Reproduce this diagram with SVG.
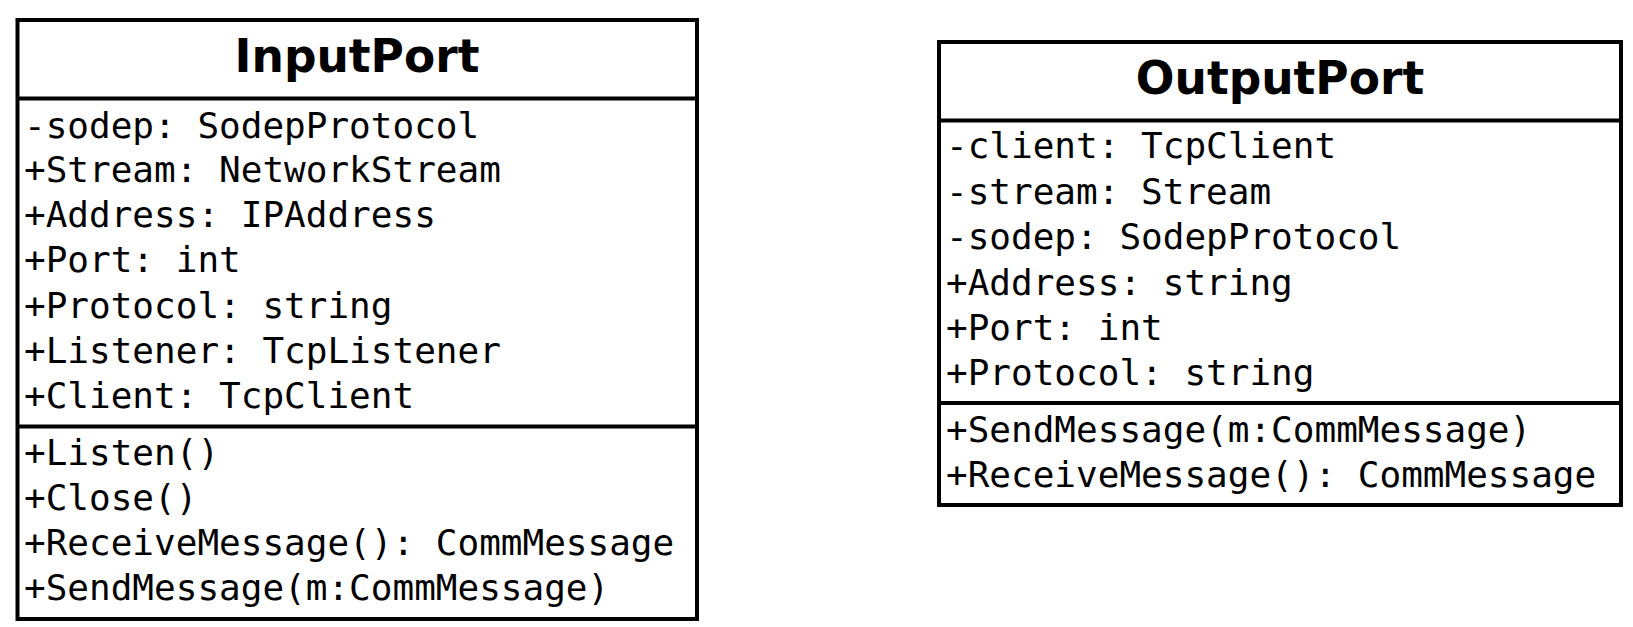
<svg xmlns="http://www.w3.org/2000/svg" width="1633" height="627" viewBox="0 0 1633 627">
<style>
.box{fill:#fff;stroke:#000;stroke-width:4}
.sep{stroke:#000;stroke-width:4}
.title{font-family:"DejaVu Sans",sans-serif;font-weight:bold;font-size:45.5px;text-anchor:middle;fill:#000}
.mem{font-family:"DejaVu Sans Mono",monospace;font-size:36px;fill:#000}
</style>
<rect width="1633" height="627" fill="#fff"/>
<g id="InputPort">
<rect class="box" x="17.5" y="20" width="679.5" height="599"/>
<line class="sep" x1="17.5" y1="98.5" x2="697" y2="98.5"/>
<line class="sep" x1="17.5" y1="426.5" x2="697" y2="426.5"/>
<text class="title" x="357" y="72">InputPort</text>
<text class="mem" x="24" y="137.5">-sodep: SodepProtocol</text>
<text class="mem" x="24" y="182">+Stream: NetworkStream</text>
<text class="mem" x="24" y="227">+Address: IPAddress</text>
<text class="mem" x="24" y="272">+Port: int</text>
<text class="mem" x="24" y="318">+Protocol: string</text>
<text class="mem" x="24" y="363">+Listener: TcpListener</text>
<text class="mem" x="24" y="408">+Client: TcpClient</text>
<text class="mem" x="24" y="465">+Listen()</text>
<text class="mem" x="24" y="510">+Close()</text>
<text class="mem" x="24" y="555">+ReceiveMessage(): CommMessage</text>
<text class="mem" x="24" y="600">+SendMessage(m:CommMessage)</text>
</g>
<g id="OutputPort">
<rect class="box" x="939" y="42" width="682" height="463"/>
<line class="sep" x1="939" y1="120.5" x2="1621" y2="120.5"/>
<line class="sep" x1="939" y1="403" x2="1621" y2="403"/>
<text class="title" x="1280" y="94">OutputPort</text>
<text class="mem" x="946" y="158">-client: TcpClient</text>
<text class="mem" x="946" y="204">-stream: Stream</text>
<text class="mem" x="946" y="249">-sodep: SodepProtocol</text>
<text class="mem" x="946" y="295">+Address: string</text>
<text class="mem" x="946" y="340">+Port: int</text>
<text class="mem" x="946" y="385">+Protocol: string</text>
<text class="mem" x="946" y="442">+SendMessage(m:CommMessage)</text>
<text class="mem" x="946" y="487">+ReceiveMessage(): CommMessage</text>
</g>
<g id="connectors"/>
</svg>
